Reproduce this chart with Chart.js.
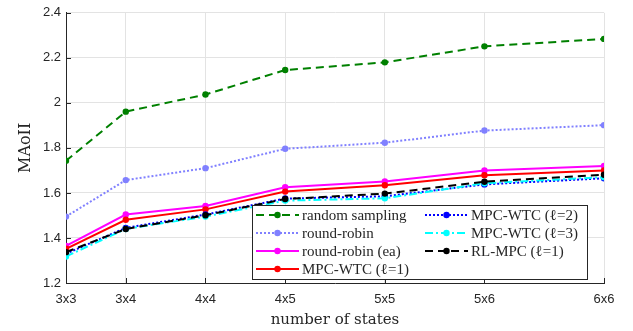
<!DOCTYPE html>
<html>
<head>
<meta charset="utf-8">
<script src="https://cdn.jsdelivr.net/npm/chart.js@4.4.1/dist/chart.umd.min.js"></script>
<style>
  html, body { margin: 0; padding: 0; background: #fff; }
  #wrap { width: 633px; height: 331px; position: relative; }
</style>
</head>
<body>
<div id="wrap"><canvas id="c"></canvas></div>
<script>
// grid sizes and number of states (x is placed by state count)
const gridLabels = ['3x3', '3x4', '4x4', '4x5', '5x5', '5x6', '6x6'];
const stateCounts = [9, 12, 16, 20, 25, 30, 36];
const yTicks = [1.2, 1.4, 1.6, 1.8, 2, 2.2, 2.4];

// MAoII values
const randomSampling = [1.743, 1.961, 2.037, 2.146, 2.180, 2.251, 2.284];
const roundRobin     = [1.495, 1.657, 1.710, 1.796, 1.823, 1.877, 1.901];
const roundRobinEa   = [1.365, 1.504, 1.542, 1.625, 1.651, 1.700, 1.720];
const mpcWtc1        = [1.352, 1.481, 1.527, 1.606, 1.634, 1.679, 1.700];
const mpcWtc2        = [1.330, 1.445, 1.504, 1.575, 1.585, 1.638, 1.665];
const mpcWtc3        = [1.318, 1.440, 1.495, 1.566, 1.576, 1.643, 1.670];
const rlMpc1         = [1.337, 1.440, 1.501, 1.573, 1.597, 1.650, 1.681];

const pts = vals => vals.map((v, i) => ({ x: stateCounts[i], y: v }));

function series(label, vals, color, dash, order) {
  return {
    label, data: pts(vals),
    borderColor: color, backgroundColor: color,
    borderWidth: 2, borderDash: dash,
    pointRadius: 3.2, pointBorderWidth: 0, pointBackgroundColor: color,
    tension: 0, order
  };
}

const datasets = [
  series('random sampling', randomSampling, '#008000', [8, 5], 6),
  series('round-robin', roundRobin, '#8080ff', [2, 2], 5),
  series('round-robin (ea)', roundRobinEa, '#ff00ff', [], 4),
  series('MPC-WTC (\u2113=1)', mpcWtc1, '#ff0000', [], 3),
  series('MPC-WTC (\u2113=2)', mpcWtc2, '#0000ff', [2, 2], 2),
  series('MPC-WTC (\u2113=3)', mpcWtc3, '#00ffff', [8, 3, 2, 3], 1),
  series('RL-MPC (\u2113=1)', rlMpc1, '#000000', [8, 5], 0)
];

// small inward tick marks, MATLAB style
const innerTicks = {
  id: 'innerTicks',
  beforeDatasetsDraw(chart) {
    const { ctx, chartArea: a, scales } = chart;
    ctx.save();
    ctx.strokeStyle = '#262626';
    ctx.lineWidth = 1;
    ctx.beginPath();
    stateCounts.forEach(v => {
      const x = Math.round(scales.x.getPixelForValue(v)) + 0.5;
      ctx.moveTo(x, a.bottom); ctx.lineTo(x, a.bottom - 5);
    });
    yTicks.forEach(v => {
      const y = Math.round(scales.y.getPixelForValue(v)) + 0.5;
      ctx.moveTo(a.left, y); ctx.lineTo(a.left + 5, y);
    });
    ctx.stroke();
    ctx.restore();
  }
};

// legend box drawn like the MATLAB one (two columns, column-major)
const boxLegend = {
  id: 'boxLegend',
  afterDatasetsDraw(chart) {
    const ctx = chart.ctx;
    const x0 = 252.5, y0 = 205.5, w = 335, h = 74;
    ctx.save();
    ctx.fillStyle = '#fff';
    ctx.fillRect(x0, y0, w, h);
    ctx.strokeStyle = '#262626';
    ctx.lineWidth = 1;
    ctx.strokeRect(x0, y0, w, h);
    ctx.font = '15px "Liberation Serif", "DejaVu Serif", serif';
    ctx.textBaseline = 'middle';
    const rows = [215, 233, 251, 269];
    const cols = [{ l: 256, r: 299, t: 302 }, { l: 425, r: 468, t: 471 }];
    chart.data.datasets.forEach((ds, i) => {
      const col = cols[i < 4 ? 0 : 1];
      const y = rows[i < 4 ? i : i - 4];
      ctx.beginPath();
      ctx.setLineDash(ds.borderDash);
      ctx.strokeStyle = ds.borderColor;
      ctx.lineWidth = 2;
      ctx.moveTo(col.l, y);
      ctx.lineTo(col.r, y);
      ctx.stroke();
      ctx.setLineDash([]);
      ctx.beginPath();
      ctx.fillStyle = ds.borderColor;
      ctx.arc((col.l + col.r) / 2, y, 3.2, 0, Math.PI * 2);
      ctx.fill();
      ctx.fillStyle = '#262626';
      ctx.fillText(ds.label, col.t, y + 1);
    });
    ctx.restore();
  }
};

new Chart(document.getElementById('c'), {
  type: 'line',
  data: { datasets },
  plugins: [innerTicks, boxLegend],
  options: {
    responsive: true,
    maintainAspectRatio: false,
    animation: false,
    layout: { padding: { top: 8, right: 29, left: 0, bottom: 0 } },
    plugins: { legend: { display: false }, tooltip: { enabled: false } },
    scales: {
      x: {
        type: 'linear', min: 9, max: 36,
        afterBuildTicks: s => { s.ticks = stateCounts.map(v => ({ value: v })); },
        afterFit: s => { s.height = 48; },
        grid: { color: '#e3e3e3', lineWidth: 1, drawTicks: false },
        border: { color: '#262626', width: 1 },
        ticks: {
          padding: 9, color: '#262626', maxRotation: 0,
          font: { family: '"Liberation Sans", Arial, sans-serif', size: 13 },
          callback: v => gridLabels[stateCounts.indexOf(v)]
        },
        title: {
          display: true, text: 'number of states', color: '#262626', padding: { top: 0, bottom: 2 },
          font: { family: '"DejaVu Serif", "Liberation Serif", serif', size: 15 }
        }
      },
      y: {
        min: 1.2, max: 2.4,
        afterBuildTicks: s => { s.ticks = yTicks.map(v => ({ value: v })); },
        afterFit: s => { s.width = 66; },
        grid: { color: '#e3e3e3', lineWidth: 1, drawTicks: false },
        border: { color: '#262626', width: 1 },
        ticks: {
          padding: 5, color: '#262626',
          font: { family: '"Liberation Sans", Arial, sans-serif', size: 13 },
          callback: v => String(v)
        },
        title: {
          display: true, text: 'MAoII', color: '#262626', padding: { top: 16, bottom: 0 },
          font: { family: '"DejaVu Serif", "Liberation Serif", serif', size: 16 }
        }
      }
    }
  }
});
</script>
</body>
</html>
